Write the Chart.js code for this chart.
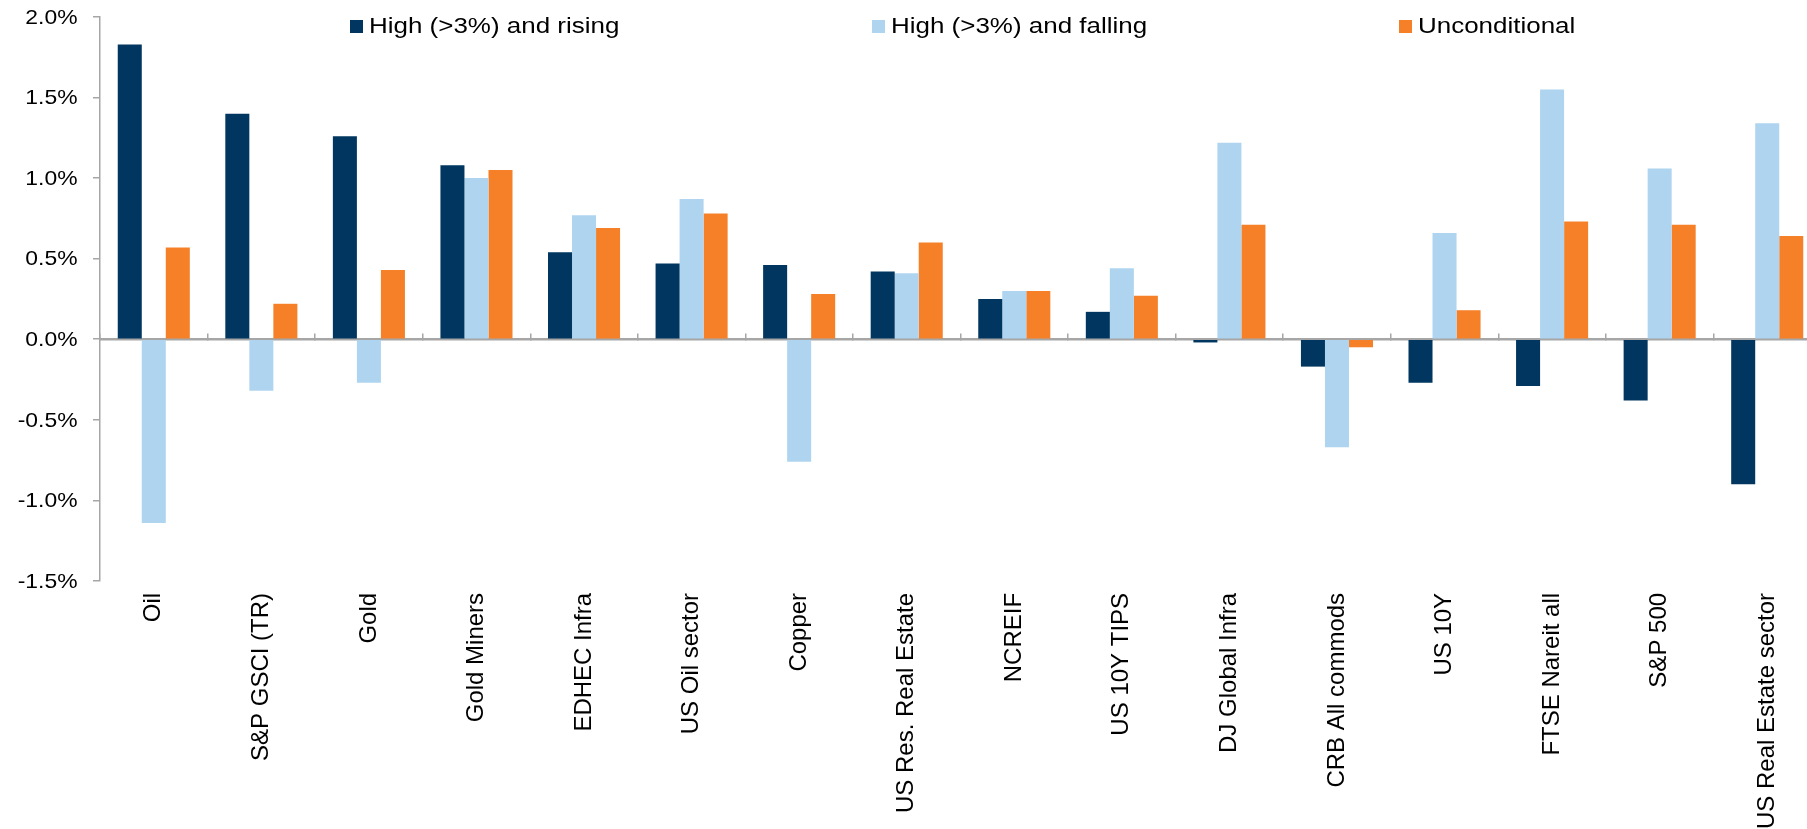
<!DOCTYPE html>
<html>
<head>
<meta charset="utf-8">
<script src="https://cdn.jsdelivr.net/npm/chart.js@4"></script>
<style>
    html, body { margin: 0; padding: 0; background: #fff; overflow: hidden; }
    /* the plot runs a few px past the right and bottom edges in the original, so the canvas is a bit larger than the window */
    #wrap { width: 1821px; height: 849px; }
</style>
</head>
<body>
<div id="wrap"><canvas id="inflationChart" width="1821" height="849"></canvas></div>
<script>
// categories
const assets = [
    'Oil', 'S&P GSCI (TR)', 'Gold', 'Gold Miners', 'EDHEC Infra', 'US Oil sector',
    'Copper', 'US Res. Real Estate', 'NCREIF', 'US 10Y TIPS', 'DJ Global Infra',
    'CRB All commods', 'US 10Y', 'FTSE Nareit all', 'S&P 500', 'US Real Estate sector'
];

// average monthly returns (%)
const highRising = [1.83, 1.40, 1.26, 1.08, 0.54, 0.47, 0.46, 0.42, 0.25, 0.17, -0.02, -0.17, -0.27, -0.29, -0.38, -0.90];
const highFalling = [-1.14, -0.32, -0.27, 1.00, 0.77, 0.87, -0.76, 0.41, 0.30, 0.44, 1.22, -0.67, 0.66, 1.55, 1.06, 1.34];
const unconditional = [0.57, 0.22, 0.43, 1.05, 0.69, 0.78, 0.28, 0.60, 0.30, 0.27, 0.71, -0.05, 0.18, 0.73, 0.71, 0.64];

const seriesNames = ['High (>3%) and rising', 'High (>3%) and falling', 'Unconditional'];
const yTicks = [-1.5, -1.0, -0.5, 0.0, 0.5, 1.0, 1.5, 2.0];

const FONT = '"Liberation Sans", Arial, sans-serif';
const AXIS_GREY = '#a6a6a6';
const pct = v => v.toFixed(1) + '%';

// legend sits inside the plot, like the Excel original (its text is drawn a bit wide)
const legendX = [350, 872, 1399];
const floatingLegend = {
    id: 'floatingLegend',
    afterDraw(chart) {
        const ctx = chart.ctx;
        ctx.save();
        ctx.font = '22px ' + FONT;
        ctx.textBaseline = 'middle';
        ctx.textAlign = 'left';
        chart.data.datasets.forEach((ds, i) => {
            ctx.fillStyle = ds.backgroundColor;
            ctx.fillRect(legendX[i], 20, 13, 13);
            ctx.fillStyle = '#000';
            ctx.save();
            ctx.translate(legendX[i] + 19, 27);
            ctx.scale(1.18, 1);
            ctx.fillText(ds.label, 0, 0);
            ctx.restore();
        });
        ctx.restore();
    }
};

// y tick labels, placed through the y scale but drawn slightly wide
const wideYLabels = {
    id: 'wideYLabels',
    afterDraw(chart) {
        const yScale = chart.scales.y;
        const ctx = chart.ctx;
        ctx.save();
        ctx.font = '21px ' + FONT;
        ctx.textBaseline = 'middle';
        ctx.textAlign = 'right';
        ctx.fillStyle = '#000';
        yScale.ticks.forEach(t => {
            ctx.save();
            ctx.translate(yScale.left - 15.5, yScale.getPixelForValue(t.value) + 1);
            ctx.scale(1.09, 1);
            ctx.fillText(pct(t.value), 0, 0);
            ctx.restore();
        });
        ctx.restore();
    }
};

const ctx = document.getElementById('inflationChart');
new Chart(ctx, {
    type: 'bar',
    data: {
        labels: assets,
        datasets: [
            { label: seriesNames[0], data: highRising, backgroundColor: '#00365f' },
            { label: seriesNames[1], data: highFalling, backgroundColor: '#aed4f0' },
            { label: seriesNames[2], data: unconditional, backgroundColor: '#f58027' }
        ]
    },
    options: {
        responsive: false,
        animation: false,
        devicePixelRatio: 1,
        categoryPercentage: 0.67,
        barPercentage: 1.0,
        layout: { padding: { left: 93, top: 17, right: 0, bottom: 8 } },
        scales: {
            x: {
                grid: { display: false, drawTicks: false },
                border: { display: false },
                ticks: {
                    autoSkip: false,
                    maxRotation: 90,
                    minRotation: 90,
                    padding: 12,
                    color: '#000',
                    font: { family: FONT, size: 24 }
                }
            },
            // zero line with the small category ticks hanging below it
            xZero: {
                type: 'category',
                position: { y: 0 },
                offset: true,
                grid: { offset: true, drawOnChartArea: false, drawTicks: true, tickLength: -7, color: AXIS_GREY, lineWidth: 1.5 },
                border: { display: true, color: AXIS_GREY, width: 2.5 },
                ticks: { display: false }
            },
            y: {
                min: -1.5,
                max: 2.0,
                afterBuildTicks: axis => { axis.ticks = yTicks.map(v => ({ value: v })); },
                grid: { drawOnChartArea: false, tickLength: 7, color: AXIS_GREY, lineWidth: 1.5 },
                border: { color: AXIS_GREY, width: 1.5 },
                ticks: { display: false }
            }
        },
        plugins: {
            legend: { display: false },
            tooltip: { enabled: false }
        }
    },
    plugins: [floatingLegend, wideYLabels]
});
</script>
</body>
</html>
